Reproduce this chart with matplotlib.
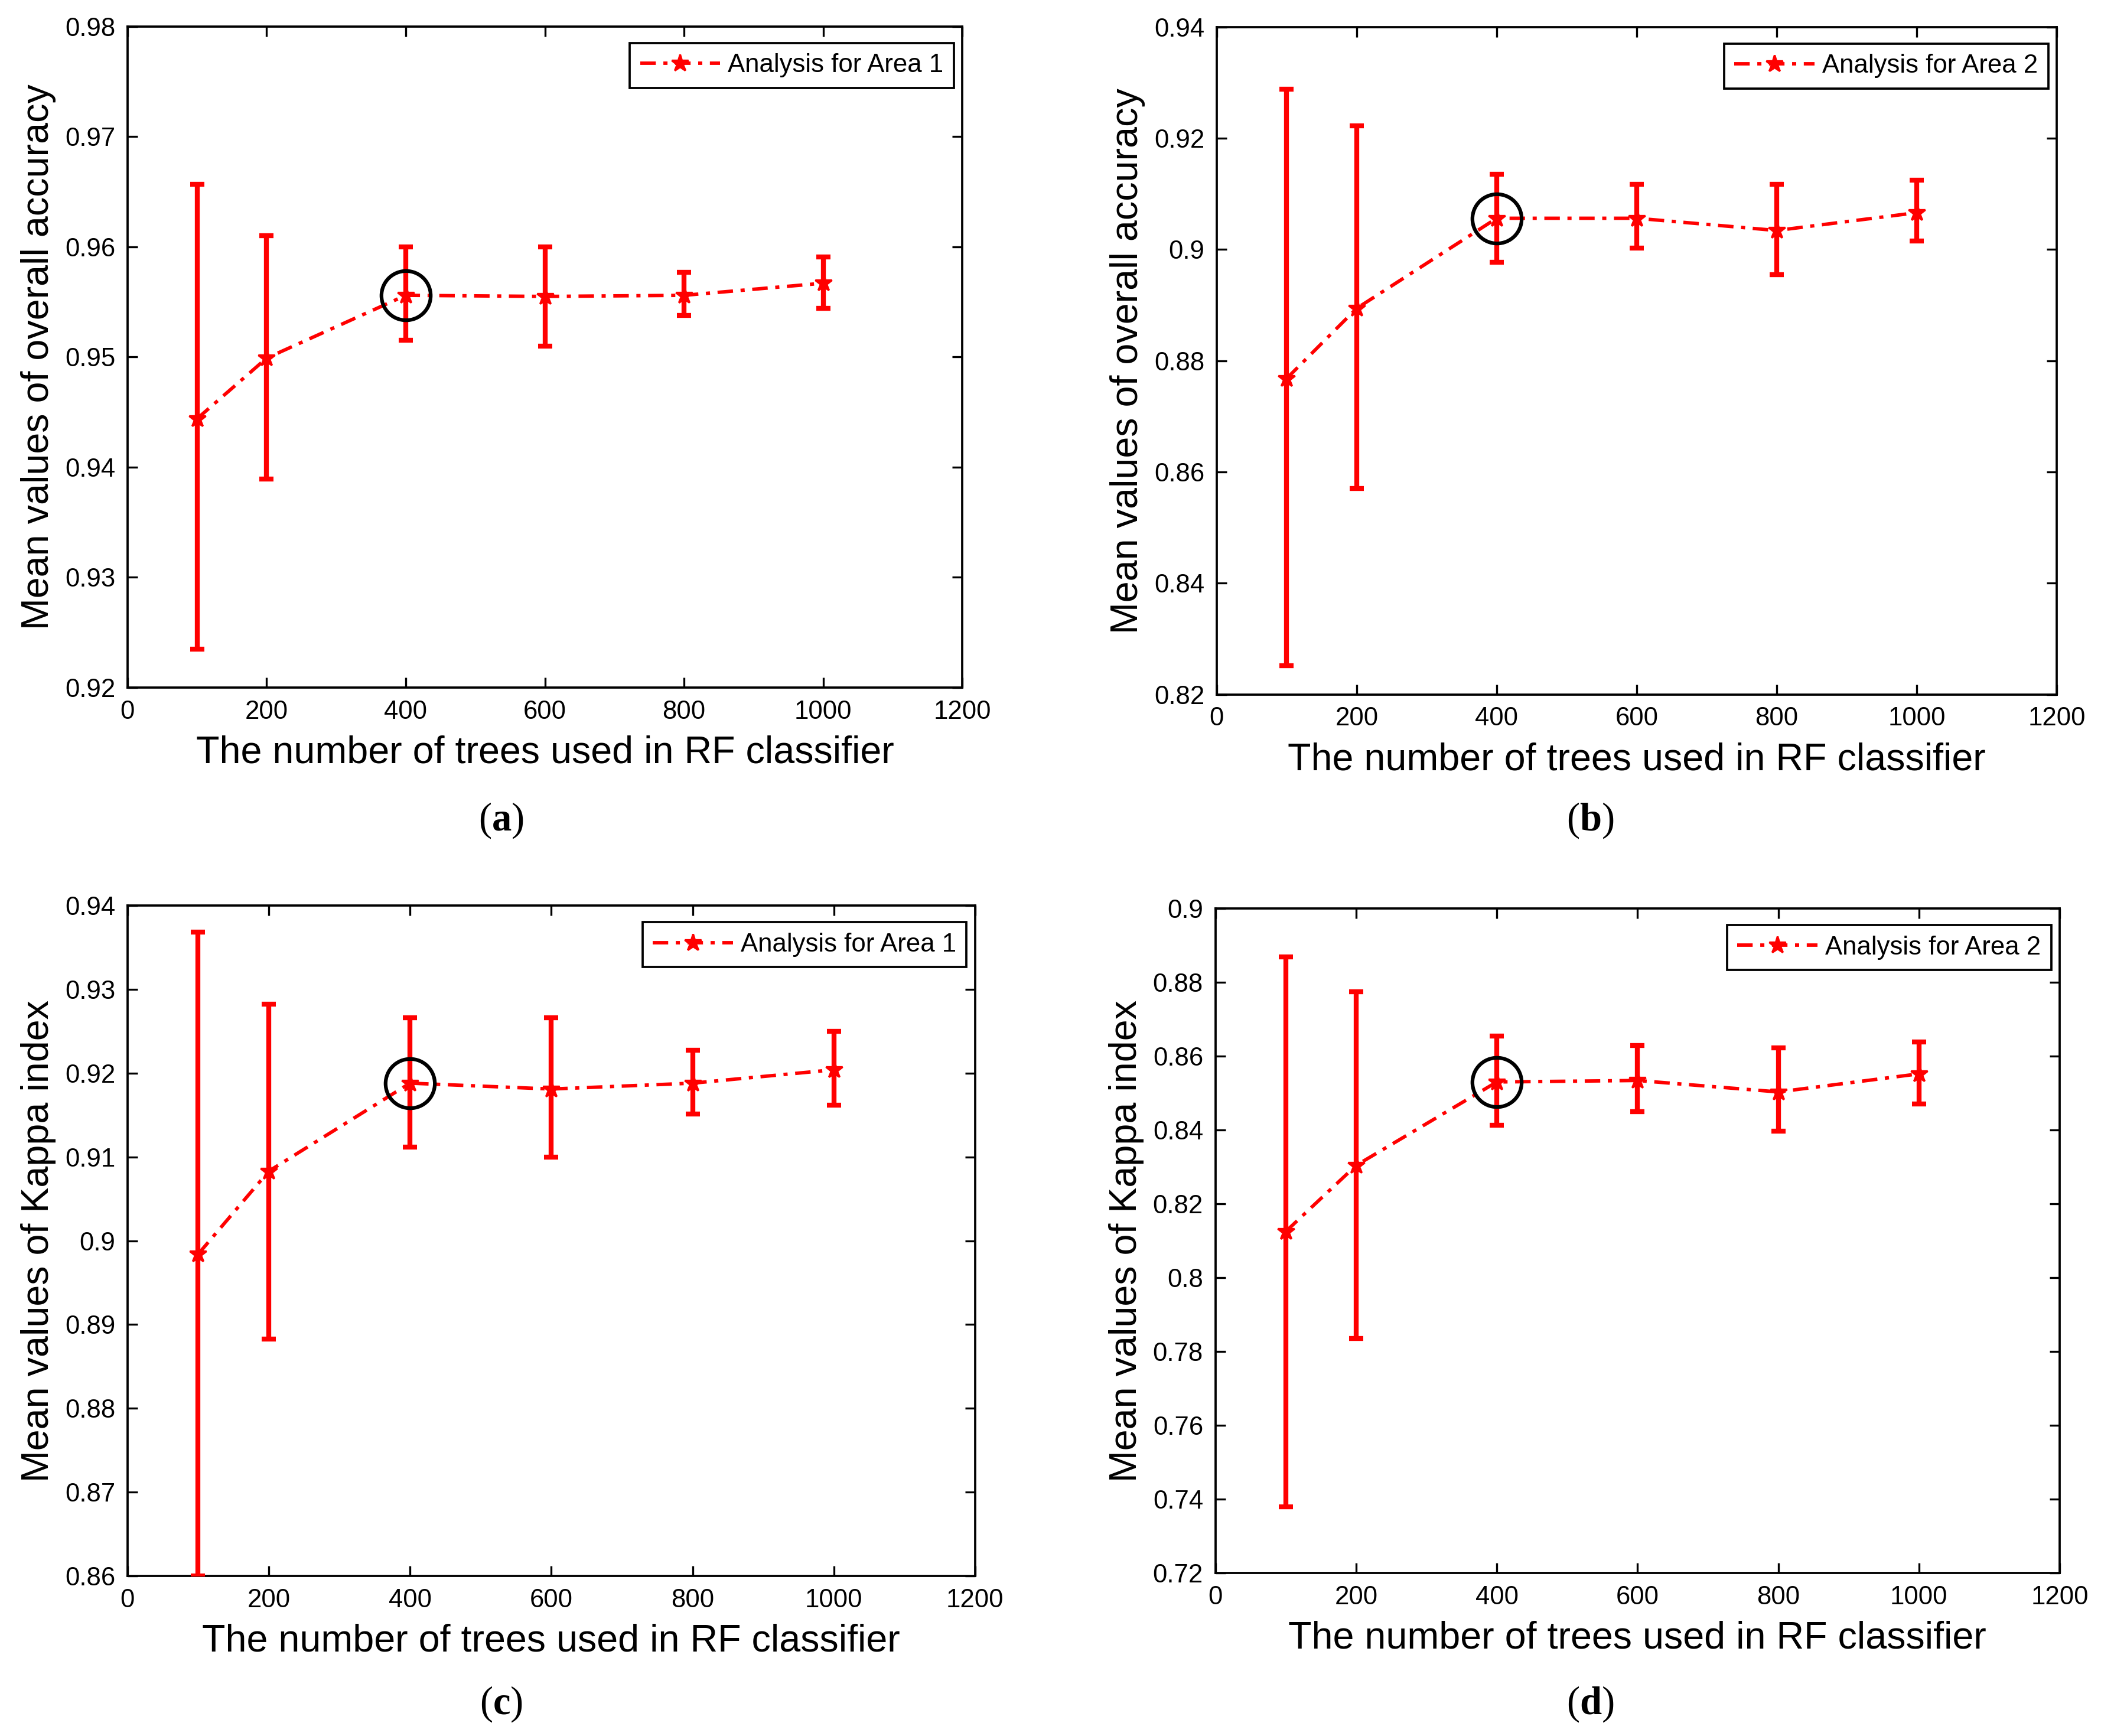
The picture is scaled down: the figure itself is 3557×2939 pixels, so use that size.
import numpy as np
import matplotlib.pyplot as plt
from matplotlib.ticker import FuncFormatter

plt.rcParams['font.family'] = ['Liberation Sans', 'DejaVu Sans']
plt.rcParams['mathtext.fontset'] = 'custom'
plt.rcParams['mathtext.rm'] = 'Liberation Serif'
plt.rcParams['mathtext.bf'] = 'Liberation Serif:bold'

trees = [100, 200, 400, 600, 800, 1000]

# overall accuracy, area 1
oa1_mean = [0.9444, 0.9499, 0.9556, 0.9555, 0.9556, 0.9567]
oa1_low = [0.9235, 0.9389, 0.9515, 0.9510, 0.9538, 0.9544]
oa1_high = [0.9657, 0.9610, 0.9600, 0.9600, 0.9577, 0.9591]

# overall accuracy, area 2
oa2_mean = [0.8768, 0.8894, 0.9056, 0.9056, 0.9034, 0.9066]
oa2_low = [0.8252, 0.8570, 0.8977, 0.9002, 0.8955, 0.9015]
oa2_high = [0.9288, 0.9222, 0.9135, 0.9117, 0.9117, 0.9125]

# kappa, area 1
ka1_mean = [0.8984, 0.9083, 0.9188, 0.9181, 0.9188, 0.9204]
ka1_low = [0.8600, 0.8883, 0.9112, 0.9100, 0.9151, 0.9162]
ka1_high = [0.9368, 0.9282, 0.9266, 0.9266, 0.9227, 0.9250]

# kappa, area 2
ka2_mean = [0.8125, 0.8304, 0.8530, 0.8534, 0.8503, 0.8552]
ka2_low = [0.7379, 0.7835, 0.8412, 0.8450, 0.8396, 0.8470]
ka2_high = [0.8868, 0.8774, 0.8655, 0.8628, 0.8623, 0.8639]

best_idx = 2  # 400 trees, circled

panels = [
    # mean, low, high, ylim, ystep, ylabel, legend, tag, axes rect, tag pos
    (oa1_mean, oa1_low, oa1_high, (0.92, 0.98), 0.01,
     'Mean values of overall accuracy', 'Analysis for Area 1', 'a',
     [0.0607, 0.604, 0.3973, 0.3807], (0.2385, 0.5274)),
    (oa2_mean, oa2_low, oa2_high, (0.82, 0.94), 0.02,
     'Mean values of overall accuracy', 'Analysis for Area 2', 'b',
     [0.5791, 0.600, 0.3998, 0.3845], (0.757, 0.5274)),
    (ka1_mean, ka1_low, ka1_high, (0.86, 0.94), 0.01,
     'Mean values of Kappa index', 'Analysis for Area 1', 'c',
     [0.0607, 0.0922, 0.4034, 0.3862], (0.2385, 0.0185)),
    (ka2_mean, ka2_low, ka2_high, (0.72, 0.90), 0.02,
     'Mean values of Kappa index', 'Analysis for Area 2', 'd',
     [0.5785, 0.0939, 0.4018, 0.3828], (0.757, 0.0185)),
]

fig = plt.figure(figsize=(3557 / 300, 2939 / 300), dpi=300)

for mean, low, high, ylim, ystep, ylab, leg, tag, rect, tpos in panels:
    ax = fig.add_axes(rect)
    m = np.array(mean)
    yerr = [m - np.array(low), np.array(high) - m]
    ax.errorbar(trees, m, yerr=yerr, fmt='none', ecolor='#ff0000',
                elinewidth=2.0, capsize=2.8, capthick=2.0, zorder=3)
    ax.plot(trees, m, color='#ff0000', lw=1.4,
            linestyle=(0, (4.5, 2.2, 1.2, 2.2)), marker='*',
            ms=7, mew=0.8, label=leg, zorder=4)
    ax.plot(trees[best_idx], m[best_idx], 'o', mfc='none', mec='black',
            ms=20, mew=1.5, zorder=5)

    ax.set_xlim(0, 1200)
    ax.set_xticks(np.arange(0, 1201, 200))
    ax.set_ylim(*ylim)
    ax.set_yticks(np.arange(ylim[0], ylim[1] + ystep / 2, ystep))
    ax.yaxis.set_major_formatter(FuncFormatter(lambda v, p: '%g' % round(v, 4)))
    ax.tick_params(direction='in', top=True, right=True, length=4,
                   width=0.8, labelsize=10.5, pad=5)
    for sp in ax.spines.values():
        sp.set_linewidth(0.9)

    ax.set_xlabel('The number of trees used in RF classifier', fontsize=15.5,
                  labelpad=4.5)
    ax.set_ylabel(ylab, fontsize=15.5, labelpad=3.5)

    lg = ax.legend(loc='upper right', bbox_to_anchor=(0.99, 0.975),
                   borderaxespad=0, fancybox=False, edgecolor='black',
                   framealpha=1, fontsize=10.5, handlelength=3.1,
                   handletextpad=0.3, borderpad=0.4)
    lg.get_frame().set_linewidth(0.9)

    fig.text(tpos[0], tpos[1], r'$\mathrm{(}\mathbf{%s}\mathrm{)}$' % tag,
             ha='center', va='center', fontsize=16)

fig.savefig('out.png', dpi=300)
